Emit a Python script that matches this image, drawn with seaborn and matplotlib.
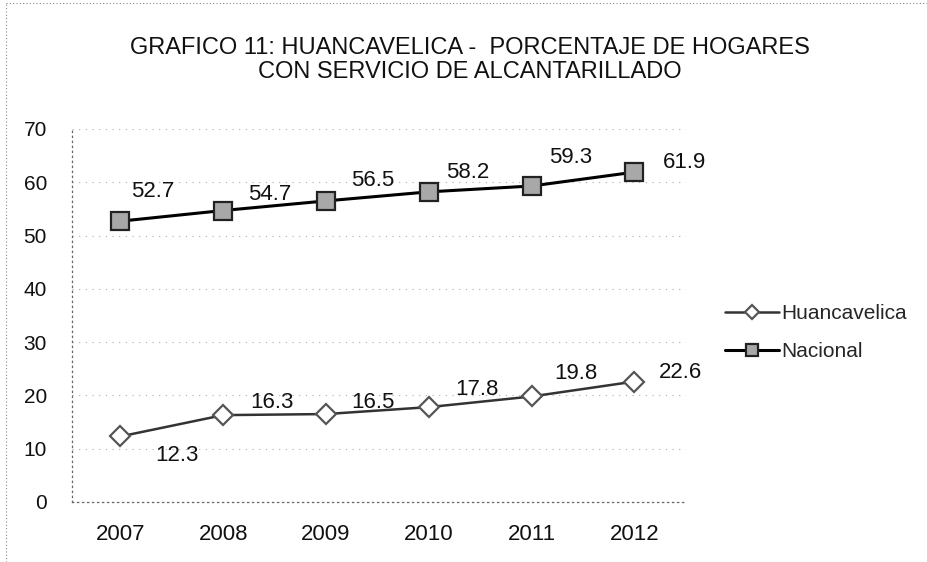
import pandas as pd
import seaborn as sns
import matplotlib.pyplot as plt
from matplotlib.lines import Line2D

sns.set_style("white")
plt.rcParams['font.family'] = ['Liberation Sans', 'DejaVu Sans']

years = [2007, 2008, 2009, 2010, 2011, 2012]
huancavelica = [12.3, 16.3, 16.5, 17.8, 19.8, 22.6]
nacional = [52.7, 54.7, 56.5, 58.2, 59.3, 61.9]

# label offsets in pixels, as placed in the original chart
huanc_offsets = [(57, -19), (49, 13), (47, 12), (48, 18), (44, 23), (46, 9)]
nac_offsets = [(32, 30), (47, 16), (47, 20), (39, 19), (39, 28), (50, 10)]

df = pd.DataFrame({"year": years, "Huancavelica": huancavelica, "Nacional": nacional})

fig = plt.figure(figsize=(9.28, 5.62), dpi=100)
ax = fig.add_axes([0.0776, 0.1068, 0.6614, 0.6637])

sns.lineplot(data=df, x="year", y="Huancavelica", ax=ax, color="#333333", linewidth=1.8,
             marker="D", markersize=10, markerfacecolor="white", markeredgecolor="#555555",
             markeredgewidth=1.6, label="Huancavelica")
sns.lineplot(data=df, x="year", y="Nacional", ax=ax, color="black", linewidth=2.2,
             marker="s", markersize=12.5, markerfacecolor="#a8a8a8", markeredgecolor="#222222",
             markeredgewidth=1.6, label="Nacional")

for x, y, off in zip(years, huancavelica, huanc_offsets):
    ax.annotate(f"{y:.1f}", (x, y), xytext=off, textcoords="offset pixels",
                ha="center", va="center", fontsize=16, color="#111111")
for x, y, off in zip(years, nacional, nac_offsets):
    ax.annotate(f"{y:.1f}", (x, y), xytext=off, textcoords="offset pixels",
                ha="center", va="center", fontsize=16, color="#111111")

ax.set_xlim(2007 - 0.47, 2012 + 0.5)
ax.set_ylim(0, 70)
ax.set_xticks(years)
ax.set_yticks(range(0, 71, 10))
ax.set_xlabel("")
ax.set_ylabel("")
ax.tick_params(axis="x", labelsize=16, length=0, pad=16, colors="#111111")
ax.tick_params(axis="y", labelsize=15, length=0, pad=18, colors="#111111")

ax.grid(axis="y", color="#aaaaaa", linestyle=(0, (1, 5)), linewidth=0.8)
ax.grid(axis="x", visible=False)
for side in ["top", "right"]:
    ax.spines[side].set_visible(False)
for side in ["left", "bottom"]:
    ax.spines[side].set_color("#666666")
    ax.spines[side].set_linestyle((0, (1, 3)))
    ax.spines[side].set_linewidth(0.9)

fig.text(0.506, 0.893, "GRAFICO 11: HUANCAVELICA -  PORCENTAJE DE HOGARES\nCON SERVICIO DE ALCANTARILLADO",
         ha="center", va="center", fontsize=17, linespacing=1.15, color="#111111")

ax.legend(loc="center left", bbox_to_anchor=(0.781, 0.408), bbox_transform=fig.transFigure,
          frameon=False, fontsize=15, handlelength=2.6, handletextpad=0.1,
          labelspacing=0.9, markerscale=0.7, borderpad=0, borderaxespad=0)

# dotted page border from the scanned report
fig.add_artist(Line2D([0.006, 0.006], [0.0, 0.995], transform=fig.transFigure,
                      color="#888888", linestyle=(0, (1, 2)), linewidth=0.8))
fig.add_artist(Line2D([0.006, 1.0], [0.995, 0.995], transform=fig.transFigure,
                      color="#888888", linestyle=(0, (1, 2)), linewidth=0.8))

fig.savefig("out.png", dpi=100)
